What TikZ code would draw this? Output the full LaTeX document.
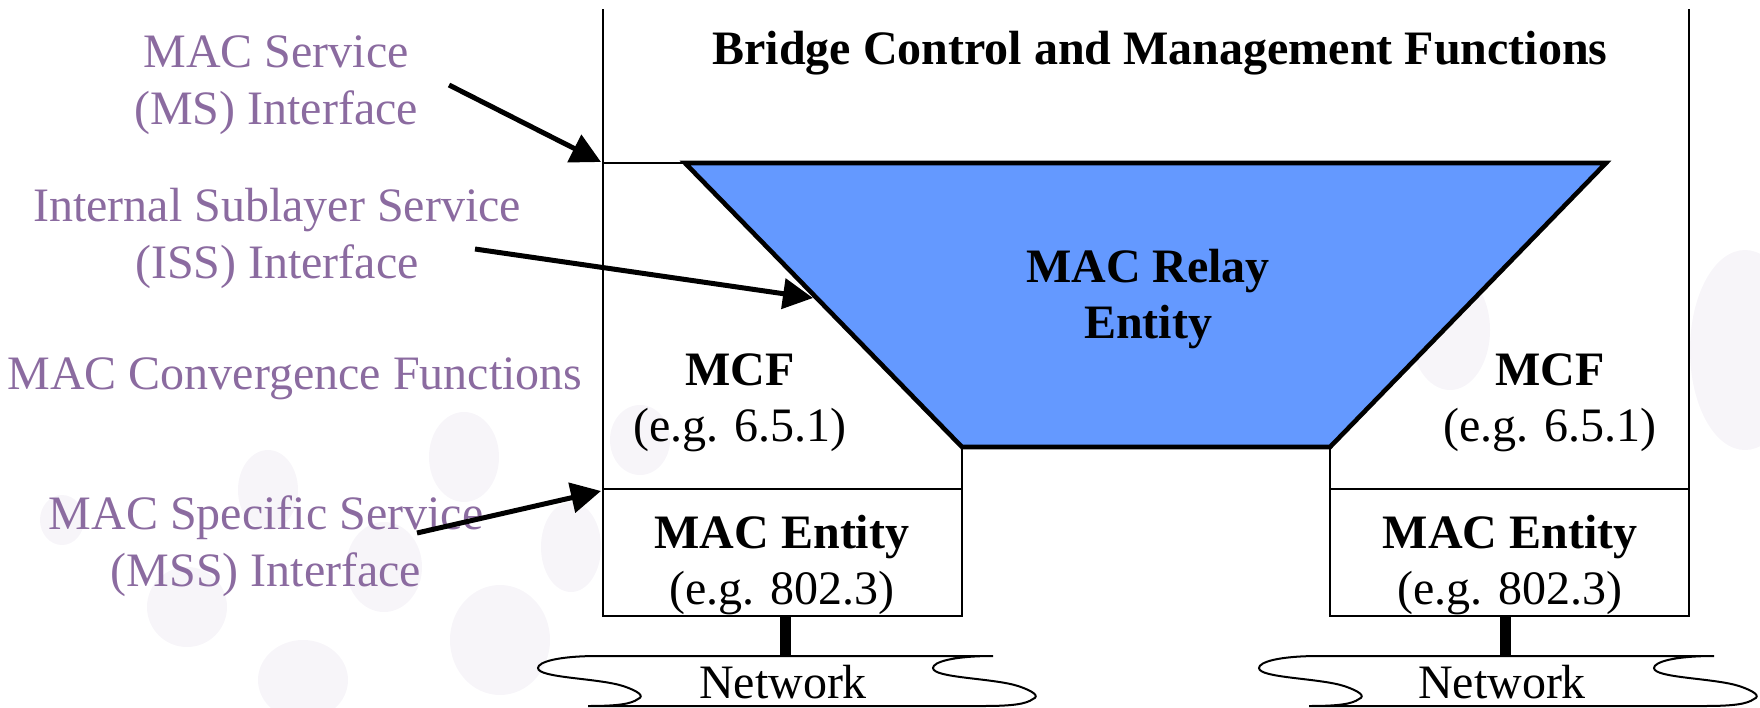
\documentclass[tikz,border=0pt]{standalone}
\usepackage{fontspec}
\setmainfont{Liberation Serif}
\usetikzlibrary{arrows.meta}
\definecolor{labelpurple}{RGB}{139,107,160}
\definecolor{relayblue}{RGB}{100,153,255}
\definecolor{blobtint}{RGB}{247,245,249}
\tikzset{
  network/.pic={
    \draw[line width=1pt] (60,0) -- (455,0)
      .. controls (415,0) and (395,6) .. (395,12)
      .. controls (395,22) and (455,22) .. (480,30)
      .. controls (495,35) and (502,40) .. (495,43)
      .. controls (488,48) and (475,50) .. (445,50)
      -- (50,50)
      .. controls (80,50) and (93,48) .. (100,43)
      .. controls (107,40) and (100,35) .. (85,30)
      .. controls (60,22) and (0,22) .. (0,12)
      .. controls (0,6) and (20,0) .. (60,0);
  }
}
\begin{document}
\begin{tikzpicture}[x=0.5pt,y=-0.5pt,
  frameline/.style={line width=1pt},
  relay/.style={draw=black,line width=2.3pt,fill=relayblue,line join=miter},
  callout/.style={line width=2.5pt,-{Triangle[length=15pt,width=15pt]}},
  link/.style={line width=5.5pt},
  blob/.style={fill=blobtint,draw=none},
  sidelabel/.style={text=labelpurple,font=\fontsize{24}{28.5}\selectfont,align=center,inner sep=0pt},
  plain/.style={font=\fontsize{24}{28}\selectfont,align=center,inner sep=0pt},
  boldtxt/.style={font=\fontsize{24}{28}\selectfont\bfseries,align=center,inner sep=0pt}
]
\useasboundingbox (0,0) rectangle (1760,707);

% faint background pattern
\fill[blob] (464,457) ellipse [x radius=35, y radius=45];
\fill[blob] (268,490) ellipse [x radius=30, y radius=40];
\fill[blob] (62,520) ellipse [x radius=22, y radius=25];
\fill[blob] (384,567) ellipse [x radius=38, y radius=45];
\fill[blob] (187,607) ellipse [x radius=40, y radius=40];
\fill[blob] (500,640) ellipse [x radius=50, y radius=55];
\fill[blob] (303,680) ellipse [x radius=45, y radius=40];
\fill[blob] (640,440) ellipse [x radius=30, y radius=35];
\fill[blob] (571,547) ellipse [x radius=30, y radius=45];
\fill[blob] (1745,350) ellipse [x radius=55, y radius=100];
\fill[blob] (1450,330) ellipse [x radius=40, y radius=60];

% frame
\draw[frameline] (603,9) -- (603,616) -- (962,616) -- (962,447);
\draw[frameline] (603,489) -- (962,489);
\draw[frameline] (603,163) -- (685,163);
\draw[frameline] (1689,9) -- (1689,616) -- (1330,616) -- (1330,447);
\draw[frameline] (1330,489) -- (1689,489);

% relay trapezoid
\draw[relay] (685,163) -- (1606,163) -- (1330,447) -- (962,447) -- cycle;

% texts in the diagram
\node[boldtxt,anchor=base] (title) at (1160,64) {Bridge Control and Management Functions};
\node[boldtxt] (relaytxt) at (1148,299) {MAC Relay\\Entity};
\node[plain] (mcfL) at (740,403) {\textbf{MCF}\\(e.g. 6.5.1)};
\node[plain] (mcfR) at (1550,403) {\textbf{MCF}\\(e.g. 6.5.1)};
\node[plain] (entL) at (782,565) {\textbf{MAC Entity}\\(e.g. 802.3)};
\node[plain] (entR) at (1510,565) {\textbf{MAC Entity}\\(e.g. 802.3)};

% networks
\pic at (538,656) {network};
\pic at (1259,656) {network};
\node[plain,anchor=base] (netL) at (783,698) {Network};
\node[plain,anchor=base] (netR) at (1502,698) {Network};
\coordinate (entLbot) at (785,616);
\coordinate (netLtop) at (785,656);
\coordinate (entRbot) at (1505,616);
\coordinate (netRtop) at (1505,656);
\draw[link] (entLbot) -- (netLtop);
\draw[link] (entRbot) -- (netRtop);

% side labels
\node[sidelabel] (ms) at (276,85) {MAC Service\\(MS) Interface};
\node[sidelabel] (iss) at (277,238) {Internal Sublayer Service\\(ISS) Interface};
\node[sidelabel,anchor=base] (mcfun) at (295,389) {MAC Convergence Functions};
\node[sidelabel] (mss) at (266,546) {MAC Specific Service\\(MSS) Interface};

% callout arrows
\coordinate (msStart) at (449,85);
\coordinate (msTip) at (601,162);
\coordinate (issStart) at (475,249);
\coordinate (issTip) at (813,298);
\coordinate (mssStart) at (417,533);
\coordinate (mssTip) at (601,491);
\draw[callout] (msStart) -- (msTip);
\draw[callout] (issStart) -- (issTip);
\draw[callout] (mssStart) -- (mssTip);
\end{tikzpicture}
\end{document}
